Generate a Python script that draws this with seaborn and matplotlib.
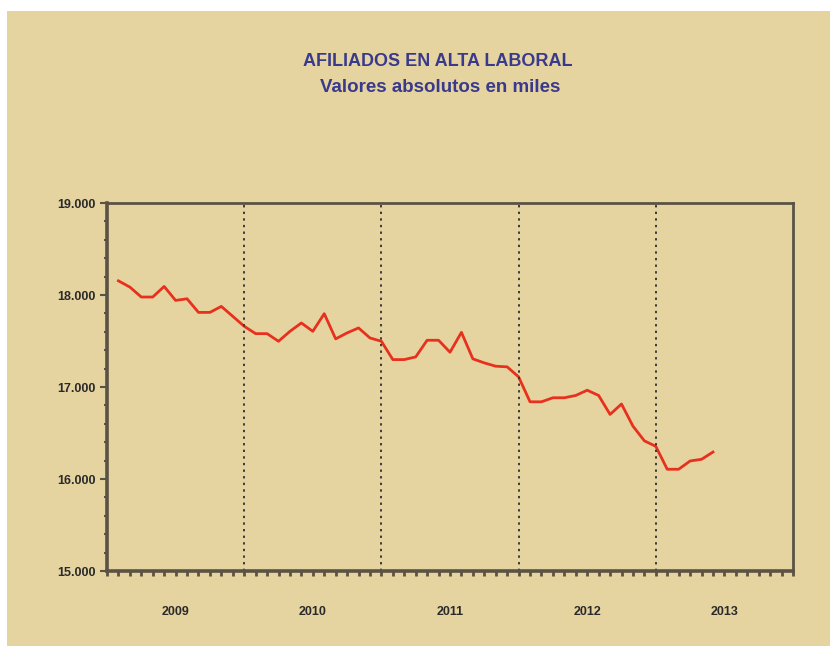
import pandas as pd
import matplotlib.pyplot as plt
import matplotlib.ticker as mticker
import matplotlib.transforms as mtransforms
import seaborn as sns

# Afiliados en alta laboral (miles), ene 2009 - may 2013
months = list(range(1, 54))
afiliados = [
    18154, 18086, 17978, 17978, 18093, 17941, 17959, 17811, 17811, 17876, 17768, 17660,
    17580, 17580, 17497, 17605, 17696, 17605, 17797, 17523, 17588, 17642, 17533, 17497,
    17298, 17298, 17327, 17508, 17508, 17378, 17594, 17306, 17262, 17226, 17219, 17110,
    16839, 16839, 16883, 16883, 16908, 16965, 16908, 16702, 16815, 16575, 16415, 16355,
    16106, 16106, 16196, 16214, 16293,
]
years = ['2009', '2010', '2011', '2012', '2013']

bg = '#E6D4A0'
axis_col = '#5A5244'

plt.rcParams['font.family'] = ['Liberation Sans', 'DejaVu Sans']

df = pd.DataFrame({'mes': months, 'afiliados': afiliados})

fig = plt.figure(figsize=(8.3, 6.46), dpi=100, facecolor=bg)
# white margin top and left, as in the scanned original
fig.patches.append(plt.Rectangle((0, 0), 7 / 830, 1, transform=fig.transFigure,
                                 facecolor='white', edgecolor='none'))
fig.patches.append(plt.Rectangle((0, 1 - 11 / 646), 1, 11 / 646, transform=fig.transFigure,
                                 facecolor='white', edgecolor='none'))

ax = fig.add_axes([107 / 830, 1 - 571 / 646, (793 - 107) / 830, (571 - 203) / 646])
ax.set_facecolor(bg)

sns.lineplot(data=df, x='mes', y='afiliados', color='#E8301E', linewidth=2, ax=ax)

ax.set_xlim(0, 60)
ax.set_ylim(15000, 19000)

# year separators
for x in [12, 24, 36, 48]:
    ax.axvline(x, color='#3A3A3A', linestyle=(0, (1.2, 2.2)), linewidth=1.4)

for s in ax.spines.values():
    s.set_color(axis_col)
    s.set_linewidth(2)
ax.spines['left'].set_linewidth(2.6)
ax.spines['bottom'].set_linewidth(2.6)

ax.xaxis.set_major_locator(mticker.MultipleLocator(1))
ax.xaxis.set_major_formatter(mticker.NullFormatter())
ax.tick_params(axis='x', which='major', length=3.5, width=2, color=axis_col, direction='out')

ax.yaxis.set_major_locator(mticker.MultipleLocator(1000))
ax.yaxis.set_minor_locator(mticker.MultipleLocator(200))
ax.yaxis.set_major_formatter(mticker.FuncFormatter(lambda v, p: f'{int(v):,}'.replace(',', '.')))
ax.tick_params(axis='y', which='major', length=5, width=1.5, color=axis_col, labelsize=9, pad=3)
ax.tick_params(axis='y', which='minor', length=2.5, width=1.5, color=axis_col)
for lab in ax.get_yticklabels():
    lab.set_fontweight('bold')
    lab.set_color('#2A2A2A')

ax.set_xlabel('')
ax.set_ylabel('')

trans = mtransforms.blended_transform_factory(ax.transData, ax.transAxes)
for i, yr in enumerate(years):
    ax.text(i * 12 + 6, -0.112, yr, transform=trans, ha='center', va='center',
            fontsize=9, fontweight='bold', color='#2A2A2A')

fig.text(438 / 830, 1 - 62 / 646, 'AFILIADOS EN ALTA LABORAL', ha='center', va='center',
         fontsize=13, fontweight='bold', color='#3A3A8C')
fig.text(440 / 830, 1 - 87 / 646, 'Valores absolutos en miles', ha='center', va='center',
         fontsize=13.5, fontweight='bold', color='#3A3A8C')

fig.savefig('out.png', dpi=100, facecolor=fig.get_facecolor())
